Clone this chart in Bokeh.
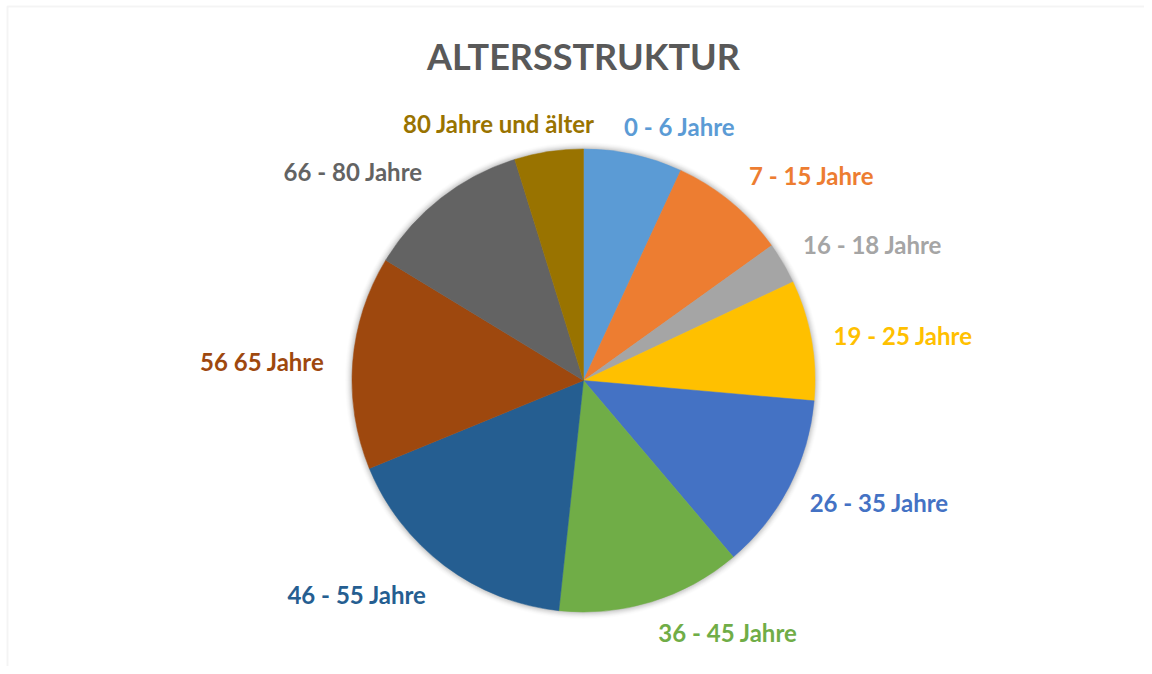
import numpy as np
from bokeh.plotting import figure
from bokeh.models import Range1d, ColumnDataSource, BoxAnnotation, Label
from bokeh.embed import file_html
from bokeh.resources import INLINE
from bokeh.core.properties import value

# ---- data ----
title = "ALTERSSTRUKTUR"
categories = ["0 - 6 Jahre", "7 - 15 Jahre", "16 - 18 Jahre", "19 - 25 Jahre",
              "26 - 35 Jahre", "36 - 45 Jahre", "46 - 55 Jahre", "56  65 Jahre",
              "66 - 80 Jahre", "80 Jahre und älter"]
shares = [6.9, 8.2, 2.9, 8.4, 12.4, 12.9, 17.1, 14.9, 11.5, 4.8]
colors = ["#5B9BD5", "#ED7D31", "#A5A5A5", "#FFC000", "#4472C4",
          "#70AD47", "#255E91", "#9E480E", "#636363", "#997300"]

# ---- layout ----
W, H = 1144, 666
CX, CY = 583, 380          # pie centre, canvas px from left / top
R = 231.5
LABEL_R = 258
nudge_x = [-15, 1, -3, -4, -3, -1, -2, 4, -2, 50]
nudge_y = [2, 6, 5, 0, -3, -5, -8, -1, 6, 2]
FONT = "Lato"

frac = np.array(shares, dtype=float) / np.sum(shares)
cum = np.cumsum(frac) * 2 * np.pi
a0 = np.concatenate([[0.0], cum[:-1]])
a1 = cum
mid = (a0 + a1) / 2

src = ColumnDataSource(dict(
    cat=categories, color=colors,
    start=np.pi / 2 - a1, end=np.pi / 2 - a0,
))

lx = LABEL_R * np.sin(mid) + np.array(nudge_x)
ly = LABEL_R * np.cos(mid) + np.array(nudge_y)
align = ["left" if s > 0 else "right" for s in np.sin(mid)]
lsrc = ColumnDataSource(dict(x=lx, y=ly, text=categories, color=colors, align=align))

p = figure(width=W, height=H, output_backend="svg", toolbar_location=None,
           x_range=Range1d(-CX, W - CX), y_range=Range1d(-(H - CY), CY),
           x_axis_location=None, y_axis_location=None, min_border=0,
           background_fill_color="white", border_fill_color="white")
p.grid.visible = False
p.outline_line_color = None

# chart border (only left/top visible in reference)
p.add_layout(BoxAnnotation(left=-CX + 7, top=CY - 6, right=W - CX + 200, bottom=-(H - CY) - 200,
                           fill_alpha=0, line_color="#d9d9d9", line_width=2))

# soft shadow
for k, a in zip(range(1, 8), [0.05, 0.04, 0.035, 0.03, 0.02, 0.015, 0.01]):
    p.circle(x=0, y=0, radius=R + k, fill_color="black", fill_alpha=a, line_color=None)

p.wedge(x=0, y=0, radius=R, start_angle="start", end_angle="end", direction="anticlock",
        fill_color="color", line_color="color", line_width=0.5, source=src)

p.text(x="x", y="y", text="text", text_color="color", text_align="align",
       text_baseline="middle", text_font=value(FONT), text_font_style="bold",
       text_font_size="24px", source=lsrc)

p.add_layout(Label(x=0, y=CY - 55, text=title, text_align="center", text_baseline="middle",
                   text_font=FONT, text_font_style="bold", text_font_size="36px",
                   text_color="#595959"))

open("out.html", "w").write(file_html(p, INLINE))
